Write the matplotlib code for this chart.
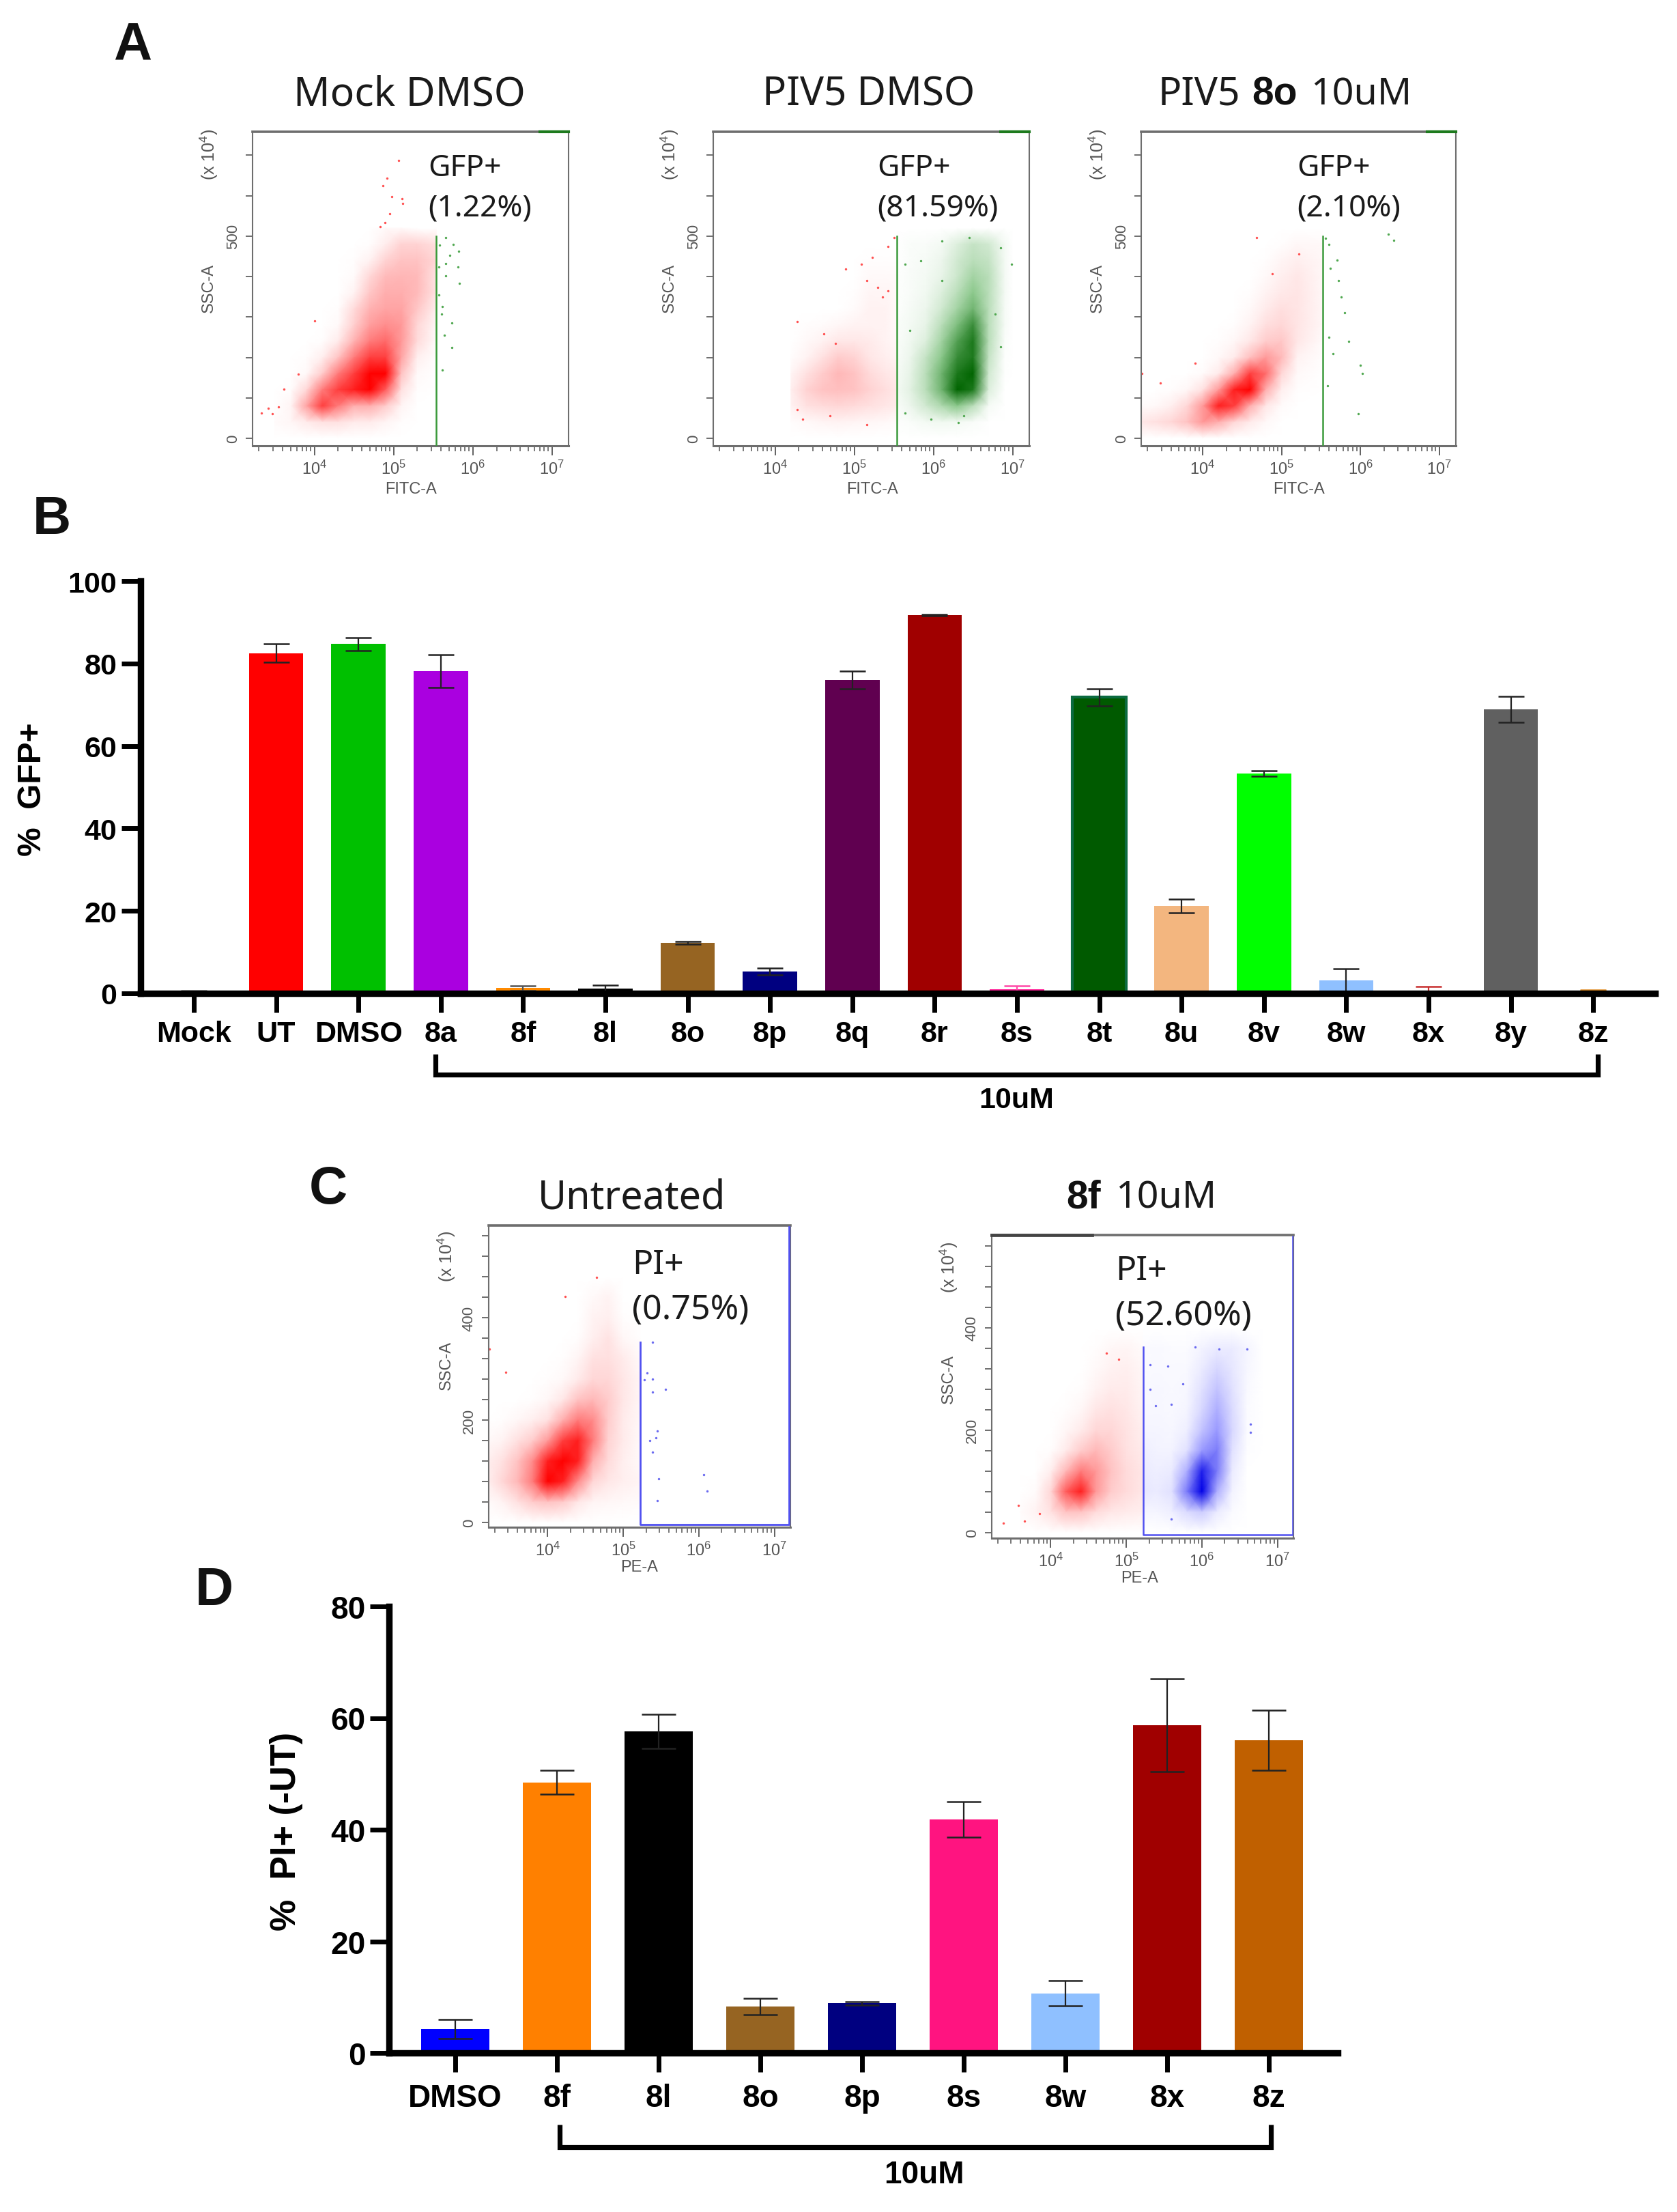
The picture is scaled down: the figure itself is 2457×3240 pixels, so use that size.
import matplotlib
matplotlib.use("Agg")
import matplotlib.pyplot as plt
import numpy as np
from matplotlib.colors import LinearSegmentedColormap
from matplotlib.lines import Line2D
from matplotlib.ticker import FixedLocator, LogLocator, NullFormatter

W, H = 2457, 3241

# bar chart B
b_labels = ["Mock", "UT", "DMSO", "8a", "8f", "8l", "8o", "8p", "8q", "8r", "8s",
            "8t", "8u", "8v", "8w", "8x", "8y", "8z"]
b_values = [0.4, 82.5, 84.7, 78.2, 1.3, 1.1, 12.3, 5.3, 76.0, 91.7, 1.0,
            71.8, 21.2, 53.3, 3.1, 0.6, 68.9, 0.7]
b_errors = [0.3, 2.2, 1.6, 4.0, 0.6, 0.9, 0.3, 0.9, 2.2, 0.2, 0.9,
            2.1, 1.6, 0.6, 2.9, 1.0, 3.2, 0.1]
b_colors = ["#8a8a8a", "#ff0000", "#00c000", "#aa00e0", "#ff8a00", "#000000", "#966422",
            "#000080", "#600050", "#a00000", "#ff1e96", "#005a00", "#f3b67f", "#00ff00",
            "#8fc0ff", "#c00000", "#606060", "#e08a20"]
b_err_colors = ["#8a8a8a", "#222222", "#222222", "#222222", "#555555", "#222222", "#222222",
                "#222222", "#222222", "#222222", "#ff4aa8", "#222222", "#222222", "#222222",
                "#222222", "#c83030", "#222222", "#e08a20"]

# bar chart D
d_labels = ["DMSO", "8f", "8l", "8o", "8p", "8s", "8w", "8x", "8z"]
d_values = [4.3, 48.5, 57.6, 8.3, 8.9, 41.8, 10.7, 58.7, 56.0]
d_errors = [1.7, 2.1, 3.1, 1.5, 0.3, 3.2, 2.3, 8.3, 5.4]
d_colors = ["#0000ff", "#ff8000", "#000000", "#966422", "#000080", "#ff1480", "#8fc0ff",
            "#a00000", "#c06000"]

rows_a = [520, 480, 440, 400, 360, 320, 280, 240, 200, 160, 120, 80, 40, 0]

mock_x = [3.5, 3.7, 3.9, 4.1, 4.3, 4.5, 4.7, 4.9, 5.1, 5.3, 5.54]
mock_red = [[0, 0, 0, 0, 0, 0, 0, .3, .3, 0, 0],
            [0, 0, 0, 0, 0, 0, .1, .9, 2.2, 2.2, 1.6],
            [0, 0, 0, 0, 0, .1, .7, 2.2, 3, 3, 2],
            [0, 0, 0, 0, 0, .2, 2, 3.4, 3.6, 3.4, 1.4],
            [0, 0, 0, 0, 0, .6, 2.8, 4, 4, 3.4, 1.4],
            [0, 0, 0, 0, .1, 1.8, 3.8, 4.5, 4.5, 2.8, .8],
            [0, 0, 0, 0, .3, 2.4, 4.8, 5.4, 5, 2, .4],
            [0, 0, 0, .1, 1, 3.8, 6, 6.6, 5, 1.8, .2],
            [0, 0, .1, .8, 3, 6, 8, 8, 4.5, .8, .1],
            [0, 0, .3, 2.5, 6, 8, 10, 10, 3, .3, 0],
            [0, .1, 2, 6, 8, 9, 10, 7, 1.5, .1, 0],
            [0, .5, 4.5, 8, 6, 4, 4, 2.5, .5, 0, 0],
            [.2, .4, 1, 1.5, 1.5, 1, 1, .5, .1, 0, 0],
            [0, 0, 0, 0, 0, 0, 0, 0, 0, 0, 0]]
mock_pts_x = [5.06, 4.92, 4.87, 4.98, 5.11, 5.12, 4.95, 4.83, 4.89, 4.0, 3.8, 3.62, 3.33, 3.42, 3.47, 3.55]
mock_pts_y = [687, 644, 624, 597, 592, 581, 556, 524, 533, 291, 158, 121, 62, 74, 60, 77]
mock_gr_x = [5.58, 5.66, 5.75, 5.82, 5.71, 5.66, 5.81, 5.66, 5.83, 5.62, 5.61, 5.74, 5.64, 5.74, 5.62, 5.57, 5.57]
mock_gr_y = [477, 496, 480, 462, 452, 433, 424, 402, 383, 326, 308, 285, 255, 225, 168, 424, 355]

piv_red_x = [4.2, 4.4, 4.6, 4.8, 5.0, 5.2, 5.4, 5.54]
piv_red = [[0, 0, 0, 0, 0, 0, 0, 0],
           [0, 0, 0, 0, 0, 0, 0, 0],
           [0, 0, 0, 0, 0, .1, .1, .1],
           [0, 0, 0, 0, 0, .3, .3, .3],
           [0, 0, 0, 0, .1, .5, .5, .3],
           [0, 0, 0, 0, .2, .7, .6, .3],
           [0, .1, .2, .4, .6, .7, .6, .3],
           [0, .3, .7, 1.2, 1.2, 1, .6, .4],
           [.1, .6, 1.5, 2.5, 2.2, 1.2, .8, .6],
           [.5, 1.5, 2.5, 3.5, 3, 1.8, 1.2, 1],
           [.8, 2.2, 3, 3.2, 3, 2.2, 1.6, 1.2],
           [.6, 1.5, 1.8, 2, 1.8, 1.5, 1.2, 1],
           [.1, .3, .5, .6, .5, .4, .3, .2],
           [0, 0, 0, 0, 0, 0, 0, 0]]
piv_pts_x = [5.23, 5.43, 4.89, 5.09, 5.30, 5.43, 4.28, 4.62, 5.5, 5.16, 5.36, 4.76, 4.35, 4.69, 5.16, 4.28]
piv_pts_y = [447, 475, 418, 430, 373, 365, 288, 259, 496, 390, 349, 234, 47, 55, 34, 71]
piv_gr_x = [5.54, 5.7, 5.9, 6.1, 6.3, 6.5, 6.7, 6.9, 7.0]
piv_gr = [[0, 0, 0, 0, 0, 0, 0, 0, 0],
          [0, .2, .3, .5, 1.5, 2.5, 2, .5, 0],
          [0, .2, .4, .8, 2, 3, 2.5, .5, 0],
          [.1, .3, .5, 1, 2.2, 4, 3, .5, 0],
          [.1, .3, .6, 1.5, 3, 5, 3, .5, 0],
          [.1, .4, .8, 2, 4, 6, 3, .4, 0],
          [.2, .5, 1, 3, 5.5, 8, 3, .4, 0],
          [.2, .6, 1.5, 4, 7, 9, 3, .2, 0],
          [.3, .8, 2.5, 5, 8, 9, 2.5, .1, 0],
          [.4, 1, 3, 6, 9, 10, 2, .1, 0],
          [.5, 1.2, 3, 6, 10, 9, 1.5, 0, 0],
          [.3, .8, 2, 3.5, 5, 3, .4, 0, 0],
          [.1, .2, .5, .6, .5, .3, 0, 0, 0],
          [0, 0, 0, 0, 0, 0, 0, 0, 0]]
piv_gr_pts_x = [6.11, 6.45, 6.85, 5.84, 6.11, 5.64, 5.97, 6.31, 5.7, 6.99, 6.78, 6.85, 5.64, 6.38]
piv_gr_pts_y = [488, 496, 471, 439, 390, 431, 47, 38, 267, 431, 308, 226, 63, 55]

o8_x = [3.23, 3.4, 3.6, 3.8, 4.0, 4.2, 4.4, 4.6, 4.8, 5.0, 5.2, 5.52]
o8_red = [[0, 0, 0, 0, 0, 0, 0, 0, 0, 0, 0, 0],
          [0, 0, 0, 0, 0, 0, 0, 0, 0, .1, .4, .3],
          [0, 0, 0, 0, 0, 0, 0, 0, .1, .5, .8, .4],
          [0, 0, 0, 0, 0, 0, 0, 0, .3, .8, 1.2, .4],
          [0, 0, 0, 0, 0, 0, 0, .1, .6, 1.1, 1.3, .4],
          [0, 0, 0, 0, 0, 0, 0, .3, 1, 1.6, 1.3, .4],
          [0, 0, 0, 0, 0, 0, .1, .6, 1.6, 2, 1.3, .4],
          [0, 0, 0, 0, 0, .1, .4, 1.2, 2.5, 2.8, 1.2, .2],
          [0, 0, 0, 0, 0, .3, 1, 3.2, 5, 3.4, .6, .1],
          [0, 0, 0, 0, .2, 1, 4, 8, 6.5, 2, .3, 0],
          [0, 0, .1, .4, 1.5, 5, 9, 10, 4, .8, .1, 0],
          [.2, .3, .8, 2, 5, 9, 8, 4, 1.2, .2, 0, 0],
          [1.2, 1.5, 2, 3, 5, 4, 2, 1, .3, 0, 0, 0],
          [0, 0, 0, 0, 0, 0, 0, 0, 0, 0, 0, 0]]
o8_pts_x = [4.68, 3.9, 3.46, 3.23, 5.22, 4.88]
o8_pts_y = [496, 185, 136, 161, 455, 406]
o8_gr_x = [5.56, 5.6, 5.62, 5.7, 5.72, 5.76, 5.8, 5.85, 6.0, 6.02, 6.35, 6.42, 5.6, 5.97, 5.58, 5.65]
o8_gr_y = [495, 480, 420, 440, 390, 350, 310, 240, 180, 160, 505, 490, 250, 60, 130, 210]

rows_c = [480, 440, 400, 360, 320, 280, 240, 200, 160, 120, 80, 40, 0]
ut_x = [3.21, 3.4, 3.6, 3.8, 4.0, 4.2, 4.4, 4.6, 4.8, 5.0, 5.22]
ut_red = [[0, 0, 0, 0, 0, 0, 0, 0, 0, 0, 0],
          [0, 0, 0, 0, 0, 0, 0, .3, .6, 0, 0],
          [0, 0, 0, 0, 0, 0, 0, .6, .8, .1, 0],
          [0, 0, 0, 0, 0, 0, .1, .8, 1.4, .4, .1],
          [0, 0, 0, 0, 0, .1, .5, 1.5, 1.6, 1, .3],
          [0, 0, 0, 0, .1, .3, 1, 2, 2, 1.2, .5],
          [0, 0, 0, .1, .4, 1.2, 3, 3.5, 2.5, 1.2, .5],
          [0, .1, .4, .8, 1.5, 4, 6, 5.5, 2.5, 1, .4],
          [.3, .6, 1.5, 2.5, 5, 8, 9, 6, 2.2, 1, .3],
          [.8, 1.5, 3, 5.5, 9, 10, 9, 4, 1.8, .8, .3],
          [.8, 2, 3.5, 6, 10, 9, 5.5, 2, 1.2, .8, .5],
          [.2, .6, 1.5, 2.5, 3, 2.5, 1.2, .5, .4, .3, .2],
          [0, 0, 0, 0, 0, 0, 0, 0, 0, 0, 0]]
ut_pts_x = [4.65, 4.23, 3.45, 3.23]
ut_pts_y = [479, 442, 294, 339]
ut_bl_x = [5.39, 5.31, 5.39, 5.28, 5.56, 5.39, 5.45, 5.43, 5.35, 5.39, 5.47, 6.06, 6.11, 5.45]
ut_bl_y = [352, 292, 280, 279, 260, 255, 179, 165, 160, 138, 86, 94, 61, 43]

rows_f = [400, 360, 320, 280, 240, 200, 160, 120, 80, 40, 0]
f8_x = [3.6, 3.8, 4.0, 4.2, 4.4, 4.6, 4.8, 5.0, 5.22]
f8_red = [[0, 0, 0, 0, 0, 0, 0, 0, 0],
          [0, 0, 0, 0, 0, .1, .4, .5, .2],
          [0, 0, 0, 0, 0, .3, .7, .8, .4],
          [0, 0, 0, 0, .1, .6, 1, 1, .5],
          [0, 0, 0, .1, .4, 1.2, 1.5, 1.2, .6],
          [0, 0, 0, .4, 1, 2, 2, 1.4, .8],
          [0, 0, .1, 1, 2.5, 3.5, 2.5, 1.5, 1],
          [0, 0, .8, 3.5, 6, 5, 3, 1.8, 1.2],
          [0, .2, 2, 7, 9, 5, 2.5, 1.8, 1.2],
          [.2, .6, 1.5, 3, 3, 1.8, 1.2, 1, .8],
          [0, 0, 0, 0, 0, 0, 0, 0, 0]]
f8_pts_x = [4.74, 3.37, 3.57, 3.65, 3.85, 4.9]
f8_pts_y = [351, 19, 53, 22, 37, 338]
f8_bl_x = [5.22, 5.4, 5.6, 5.8, 6.0, 6.2, 6.4, 6.6, 6.8]
f8_blue = [[0, 0, 0, 0, 0, 0, 0, 0, 0],
           [.2, .3, .2, .2, .6, 1, 1, .5, 0],
           [.2, .3, .3, .3, 1, 2, 1.2, .4, 0],
           [.3, .4, .3, .4, 1.5, 3, 1.5, .3, 0],
           [.4, .4, .3, .5, 2, 4, 1.8, .2, 0],
           [.5, .5, .4, .8, 3, 5, 2, .2, 0],
           [.8, .6, .6, 1.5, 5, 6, 1.5, .1, 0],
           [1, .8, 1, 4, 9, 6, 1, 0, 0],
           [1.2, 1, 1.5, 6, 10, 4, .6, 0, 0],
           [.5, .5, .8, 1.8, 2.5, 1, .2, 0, 0],
           [0, 0, 0, 0, 0, 0, 0, 0, 0]]
f8_bl_pts_x = [5.31, 5.55, 5.75, 5.59, 5.39, 5.31, 6.64, 6.64, 5.59, 5.91, 6.23, 6.6]
f8_bl_pts_y = [328, 325, 291, 251, 248, 280, 212, 196, 27, 362, 359, 359]

plt.rcParams["font.family"] = ["Liberation Sans", "DejaVu Sans"]
plt.rcParams["mathtext.default"] = "regular"

fig = plt.figure(figsize=(W / 100, H / 100), dpi=100, facecolor="white")

red_map = LinearSegmentedColormap.from_list("r", ["#ffffff", "#ff9a9a", "#ff0000"])
green_map = LinearSegmentedColormap.from_list("g", ["#ffffff", "#8cc88c", "#006400"])
blue_map = LinearSegmentedColormap.from_list("b", ["#ffffff", "#9a9aff", "#0000e6"])


def px_axes(left, top, right, bottom):
    return fig.add_axes([left / W, 1 - bottom / H, (right - left) / W, (bottom - top) / H])


def put(x, y, s, **kw):
    kw.setdefault("ha", "left")
    kw.setdefault("va", "center")
    return fig.text(x / W, 1 - y / H, s, **kw)


def bracket(x0, x1, y0, y1):
    xs = np.array([x0, x0, x1, x1]) / W
    ys = 1 - np.array([y0, y1, y1, y0]) / H
    fig.add_artist(Line2D(xs, ys, color="black", lw=5.2, solid_joinstyle="miter", solid_capstyle="butt"))


def flow_axes(box, ymin, ymax, yticks, ylabels, xname, xname_x, xname_y, left_txt):
    ax = px_axes(*box)
    ax.set_xscale("log")
    ax.set_xlim(10 ** 3.22, 10 ** 7.21)
    ax.set_ylim(ymin, ymax)
    for s in ax.spines.values():
        s.set_color("#6e6e6e")
        s.set_linewidth(1.5)
    ax.spines["top"].set_linewidth(2.6)
    ax.spines["bottom"].set_linewidth(2.2)
    ax.set_xticks([1e4, 1e5, 1e6, 1e7])
    ax.xaxis.set_minor_locator(LogLocator(base=10, subs=range(2, 10), numticks=12))
    ax.xaxis.set_minor_formatter(NullFormatter())
    ax.yaxis.set_major_locator(FixedLocator(yticks))
    ax.set_yticklabels(ylabels, rotation=90, va="center")
    ax.tick_params(axis="x", which="major", length=10, width=1.3, color="#555555",
                   labelsize=17, labelcolor="#555555", pad=5)
    ax.tick_params(axis="x", which="minor", length=6, width=1.1, color="#555555")
    ax.tick_params(axis="y", which="major", length=7, width=1.2, color="#555555",
                   labelsize=16, labelcolor="#555555", pad=6)
    put(xname_x, xname_y, xname, ha="center", fontsize=17, color="#555555")
    put(left_txt[0], left_txt[1], "SSC-A", ha="center", rotation=90, fontsize=17, color="#555555")
    put(left_txt[0], left_txt[2], r"(x 10$^{4}$)", ha="center", rotation=90, fontsize=18, color="#555555")
    return ax


def cloud(ax, xs, ys, grid, cmap):
    ax.pcolormesh(10 ** np.array(xs, float), ys, np.array(grid), shading="gouraud",
                  cmap=cmap, vmin=0, vmax=10, zorder=1)


def dots(ax, xs, ys, color):
    ax.scatter(10 ** np.array(xs), ys, s=6, color=color, lw=0, zorder=2)


GREEN_GATE = "#3c9a3c"
BLUE_GATE = "#5050f0"
ticks_a = [0, 100, 200, 300, 400, 500, 600, 700]
labs_a = ["0", "", "", "", "", "500", "", ""]

# panel A
ax1 = flow_axes((370, 194, 833, 654), -18.6, 758, ticks_a, labs_a, "FITC-A", 602, 717, (306, 422, 226))
cloud(ax1, mock_x, rows_a, mock_red, red_map)
dots(ax1, mock_pts_x, mock_pts_y, "#ff5050")
dots(ax1, mock_gr_x, mock_gr_y, "#50a850")
ax1.plot([10 ** 5.54] * 2, [-18.6, 500], color=GREEN_GATE, lw=1.8, zorder=3)

ax2 = flow_axes((1045, 194, 1508, 654), -18.6, 758, ticks_a, labs_a, "FITC-A", 1278, 717, (981, 422, 226))
cloud(ax2, piv_red_x, rows_a, piv_red, red_map)
cloud(ax2, piv_gr_x, rows_a, piv_gr, green_map)
dots(ax2, piv_pts_x, piv_pts_y, "#ff5050")
dots(ax2, piv_gr_pts_x, piv_gr_pts_y, "#50a850")
ax2.plot([10 ** 5.54] * 2, [-18.6, 500], color=GREEN_GATE, lw=1.8, zorder=3)

ax3 = flow_axes((1672, 194, 2133, 654), -18.6, 758, ticks_a, labs_a, "FITC-A", 1903, 717, (1608, 422, 226))
cloud(ax3, o8_x, rows_a, o8_red, red_map)
dots(ax3, o8_pts_x, o8_pts_y, "#ff5050")
dots(ax3, o8_gr_x, o8_gr_y, "#50a850")
ax3.plot([10 ** 5.52] * 2, [-18.6, 500], color=GREEN_GATE, lw=1.8, zorder=3)

# dark green end of the top edge
for ax in (ax1, ax2, ax3):
    ax.plot([10 ** 6.85, 10 ** 7.21], [758, 758], color="#1d7a1d", lw=3, clip_on=False, zorder=5)

TITLE = dict(family=["Noto Sans", "DejaVu Sans"], color="#1a1a1a")
BOLD = dict(family=["Liberation Sans", "DejaVu Sans"], fontweight="bold", color="#111111")
put(600, 139, "Mock DMSO", ha="center", fontsize=42.5, **TITLE)
put(1273, 139, "PIV5 DMSO", ha="center", fontsize=42, **TITLE)
put(1697, 139, "PIV5", fontsize=41, **TITLE)
put(1834, 139, "8o", fontsize=41, **BOLD)
put(1920, 139, "10uM", fontsize=40, **TITLE)

for x, pct in [(627, "(1.22%)"), (1285, "(81.59%)"), (1900, "(2.10%)")]:
    put(x, 247, "GFP+", fontsize=32, **TITLE)
    put(x, 305, pct, fontsize=32, **TITLE)

# panel B
axb = px_axes(206, 852, 2425, 1456)
pos_b = np.arange(len(b_labels))
axb.bar(pos_b, b_values, width=0.66, color=b_colors, zorder=2)
axb.bar(pos_b[11], b_values[11], width=0.66, color="none", edgecolor="#0b6b40", lw=3, zorder=2.1)
for p, v, e, c in zip(pos_b, b_values, b_errors, b_err_colors):
    axb.errorbar(p, v, yerr=e, fmt="none", ecolor=c, elinewidth=1.6,
                 capsize=14, capthick=1.8, zorder=3, clip_on=False)
axb.set_xlim((206 - 284) / 120.6, (2425 - 284) / 120.6)
axb.set_ylim(0, 100)
axb.set_yticks([0, 20, 40, 60, 80, 100])
axb.set_xticks(pos_b)
axb.set_xticklabels(b_labels)

axd = px_axes(570, 2354, 1960, 3008)
pos_d = np.arange(len(d_labels))
axd.bar(pos_d, d_values, width=0.67, color=d_colors, zorder=2)
axd.errorbar(pos_d, d_values, yerr=d_errors, fmt="none", ecolor="#222222", elinewidth=1.6,
             capsize=18, capthick=1.8, zorder=3, clip_on=False)
axd.set_xlim((570 - 667) / 149, (1960 - 667) / 149)
axd.set_ylim(0, 80)
axd.set_yticks([0, 20, 40, 60, 80])
axd.set_xticks(pos_d)
axd.set_xticklabels(d_labels)

for ax, fs, xpad in ((axb, 31, 8), (axd, 33, 12)):
    ax.spines["top"].set_visible(False)
    ax.spines["right"].set_visible(False)
    ax.spines["left"].set_linewidth(6.8)
    ax.spines["bottom"].set_linewidth(6.8)
    ax.spines["left"].set_zorder(6)
    ax.spines["bottom"].set_zorder(6)
    ax.tick_params(axis="both", length=20, width=5, labelsize=fs, pad=xpad)
    ax.tick_params(axis="y", pad=5)
    for t in ax.get_xticklabels() + ax.get_yticklabels():
        t.set_fontweight("bold")

put(48, 1156, "%  GFP+", ha="center", rotation=90, fontsize=34.5, fontweight="bold")
bracket(638, 2341, 1545, 1575)
put(1489, 1612, "10uM", ha="center", fontsize=31, fontweight="bold")

put(420, 2682, "%  PI+ (-UT)", ha="center", rotation=90, fontsize=37.5, fontweight="bold")
bracket(820, 1862, 3113, 3146)
put(1354, 3186, "10uM", ha="center", fontsize=33, fontweight="bold")

# panel C
ticks_c = [0, 40, 80, 120, 160, 200, 240, 280, 320, 360, 400, 440, 480, 520, 560]
labs_c = ["0", "", "", "", "", "200", "", "", "", "", "400", "", "", "", ""]

axc1 = flow_axes((716, 1796, 1158, 2238), -9, 580, ticks_c, labs_c, "PE-A", 937, 2296, (654, 2000, 1840))
cloud(axc1, ut_x, rows_c, ut_red, red_map)
dots(axc1, ut_pts_x, ut_pts_y, "#ff5050")
dots(axc1, ut_bl_x, ut_bl_y, "#6a6af0")
axc1.plot([10 ** 5.22, 10 ** 5.22, 10 ** 7.19, 10 ** 7.19], [352, -4, -4, 578], color=BLUE_GATE, lw=2, zorder=3)

axc2 = flow_axes((1453, 1810, 1895, 2254), -11, 581, ticks_c, labs_c, "PE-A", 1670, 2312, (1390, 2020, 1856))
cloud(axc2, f8_x, rows_f, f8_red, red_map)
cloud(axc2, f8_bl_x, rows_f, f8_blue, blue_map)
dots(axc2, f8_pts_x, f8_pts_y, "#ff5050")
dots(axc2, f8_bl_pts_x, f8_bl_pts_y, "#6a6af0")
axc2.plot([10 ** 5.22, 10 ** 5.22, 10 ** 7.2, 10 ** 7.2], [363, -4, -4, 578], color=BLUE_GATE, lw=1.8, zorder=3)
axc2.plot([10 ** 3.22, 10 ** 4.55], [581, 581], color="#444444", lw=3.4, clip_on=False, zorder=5)

put(926, 1755, "Untreated", ha="center", fontsize=41.5, **TITLE)
put(1562, 1755, "8f", fontsize=41, **BOLD)
put(1634, 1755, "10uM", fontsize=40, **TITLE)
put(926, 1853, "PI+", fontsize=36, **TITLE)
put(926, 1919, "(0.75%)", fontsize=36, **TITLE)
put(1634, 1862, "PI+", fontsize=36, **TITLE)
put(1634, 1928, "(52.60%)", fontsize=36, **TITLE)

# panel letters
for x, y, s in [(194, 67, "A"), (76, 762, "B"), (481, 1743, "C"), (314, 2331, "D")]:
    put(x, y, s, ha="center", fontsize=56, **BOLD)

fig.savefig("out.png", dpi=100)
